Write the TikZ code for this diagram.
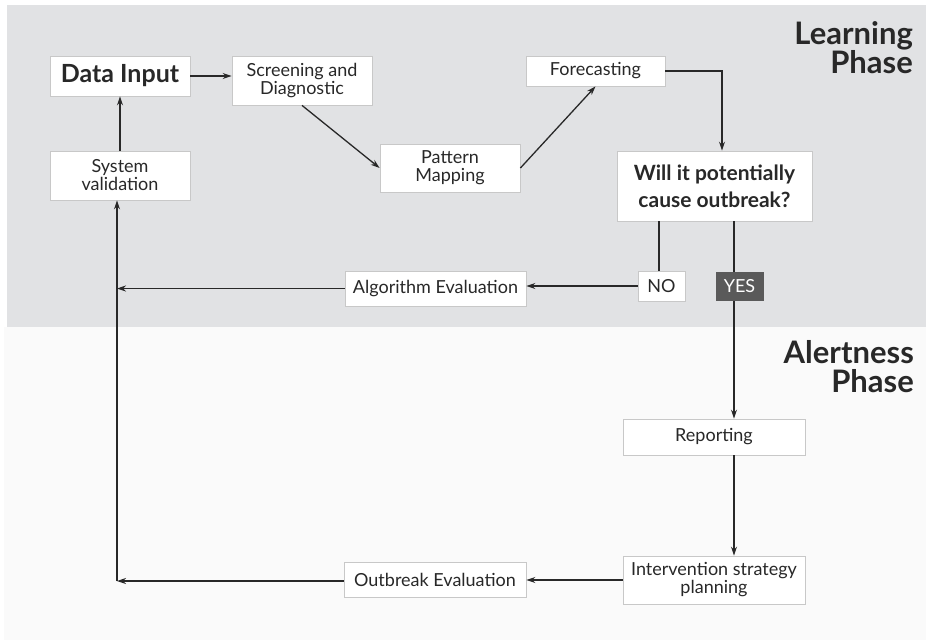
\documentclass[tikz,border=0pt]{standalone}
\usepackage{fontspec}
\setmainfont{Lato}
\usetikzlibrary{calc,arrows.meta}
\definecolor{bggray}{RGB}{225,226,228}
\definecolor{bgwhite}{RGB}{250,250,250}
\definecolor{ink}{RGB}{40,40,40}
\definecolor{boxline}{RGB}{200,200,200}
\definecolor{yesfill}{RGB}{90,90,90}
\tikzset{
  box/.style={draw=boxline, line width=0.8pt, fill=white, text=ink, align=center, inner sep=2pt, font=\fontsize{18}{18}\selectfont},
  conn/.style={draw=ink, line width=1.3pt, -{Stealth[length=9pt,width=6pt]}},
  plain/.style={draw=ink, line width=1.3pt},
  phase/.style={text=ink, align=right, font=\bfseries\fontsize{31}{29}\selectfont, inner sep=0pt},
}
\begin{document}
\begin{tikzpicture}[x=1pt,y=-1pt]
\useasboundingbox (0,0) rectangle (926,640);
\fill[white] (0,0) rectangle (926,640);
\fill[bggray] (7,5) rectangle (926,327);
\fill[bgwhite] (4,327) rectangle (926,640);

\node[phase, anchor=north east] (lp) at (913,21) {Learning\\Phase};
\node[phase, anchor=north east] (ap) at (914,340) {Alertness\\Phase};

\node[box, minimum width=140pt, minimum height=40pt, font=\bfseries\fontsize{25}{26}\selectfont] (datain) at (120,76) {Data Input};
\node[box, minimum width=140pt, minimum height=49pt] (screen) at (302,80.5) {Screening and\\Diagnostic};
\node[box, minimum width=140pt, minimum height=49pt] (sysval) at (120,175.5) {System\\validation};
\node[box, minimum width=140pt, minimum height=48pt] (pattern) at (450,168) {Pattern\\Mapping};
\node[box, minimum width=139pt, minimum height=30pt] (forecast) at (595.5,71) {Forecasting};
\node[box, minimum width=195pt, minimum height=70pt, font=\bfseries\fontsize{21}{27}\selectfont] (will) at (714.5,186) {Will it potentially\\cause outbreak?};
\node[box, minimum width=181pt, minimum height=35pt] (algo) at (435.5,288.5) {Algorithm Evaluation};
\node[box, minimum width=182pt, minimum height=36pt] (report) at (714,437) {Reporting};
\node[box, minimum width=182pt, minimum height=48pt] (interv) at (714,580) {Intervention strategy\\planning};
\node[box, minimum width=182pt, minimum height=35pt] (outbreak) at (435,579.5) {Outbreak Evaluation};

% connectors
\draw[conn] (datain.east) -- (datain.east -| screen.west);
\draw[conn] (screen.south) -- (pattern.west);
\draw[conn] (pattern.east) -- (forecast.south);
\draw[conn] (forecast.east) -| ($(will.north)+(7.5,0)$);
\draw[conn] (sysval.north) -- (datain.south);

% YES branch line (behind YES box)
\draw[conn] ($(will.south)+(19.5,0)$) -- ($(report.north)+(20,0)$);
\node[draw=yesfill, fill=yesfill, text=white, minimum width=47pt, minimum height=28pt, inner sep=0pt, font=\fontsize{18}{18}\selectfont] (yes) at (739.5,286) {YES};
\draw[conn] ($(report.south)+(20,0)$) -- ($(interv.north)+(20,0)$);

% NO branch
\node[box, minimum width=47pt, minimum height=30pt] (no) at (661.5,286) {NO};
\draw[plain] ($(will.south)+(-55.5,0)$) -- ($(no.north)+(-2.5,0)$);
\draw[conn] (no.west) -- (no.west -| algo.east);

% return paths
\coordinate (corner) at ($(sysval.south |- outbreak.west)+(-3,1.5)$);
\draw[conn] (algo.west) -- (algo.west -| corner);
\draw[conn] (interv.west) -- (interv.west -| outbreak.east);
\draw[conn] (outbreak.west |- corner) -- (corner);
\draw[conn] (corner) -- (corner |- sysval.south);
\end{tikzpicture}
\end{document}
